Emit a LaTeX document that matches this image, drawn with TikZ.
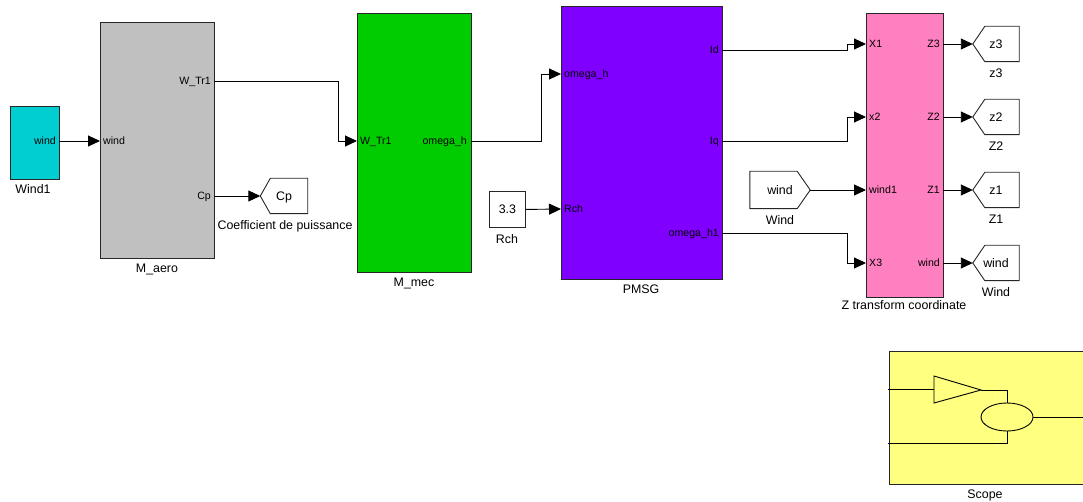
\documentclass[tikz,border=0pt]{standalone}
\usepackage{fontspec}
\setmainfont{Liberation Sans}
\usetikzlibrary{arrows.meta,calc}

\definecolor{windcyan}{RGB}{0,206,209}
\definecolor{aerogray}{RGB}{192,192,192}
\definecolor{mecgreen}{RGB}{0,204,0}
\definecolor{pmsgviolet}{RGB}{128,0,255}
\definecolor{zpink}{RGB}{255,128,192}
\definecolor{scopeyellow}{RGB}{255,255,128}

\newcommand\portfont{\fontsize{10.6}{12}\selectfont}
\newcommand\namefont{\fontsize{12.4}{14}\selectfont}

% outline of a Goto tag (point on the left) around node #1, slant #2
\newcommand\gototag[2]{\draw[tagline] (#1.west) -- ([xshift=#2pt]#1.north west) -- (#1.north east) -- (#1.south east) -- ([xshift=#2pt]#1.south west) -- cycle;}
% outline of a From tag (point on the right) around node #1, slant #2
\newcommand\fromtag[2]{\draw[tagline] (#1.north west) -- ([xshift=-#2pt]#1.north east) -- (#1.east) -- ([xshift=-#2pt]#1.south east) -- (#1.south west) -- cycle;}

\tikzset{
  blk/.style={draw=black!85, line width=0.9pt, inner sep=0pt, anchor=north west},
  portL/.style={font=\portfont, anchor=west, inner sep=0pt, text height=7.6pt, text depth=0pt},
  portR/.style={font=\portfont, anchor=east, inner sep=0pt, text height=7.6pt, text depth=0pt},
  blkname/.style={font=\namefont, inner sep=0pt, text height=8.9pt, text depth=0pt},
  tagtext/.style={font=\namefont, inner sep=0pt, text height=8.9pt, text depth=0pt},
  tagline/.style={line width=0.9pt, draw=black!85},
  wire/.style={line width=0.9pt, -{Triangle[length=12pt,width=11pt]}},
  plain/.style={line width=0.9pt},
}

\begin{document}
\begin{tikzpicture}[x=1pt,y=-1pt]
\useasboundingbox (0,0) rectangle (1083,502);

% ---------------- blocks ----------------
\node[blk, fill=windcyan,   minimum width=49,  minimum height=73]  (w1)   at (10,106) {};
\node[blk, fill=aerogray,   minimum width=114, minimum height=236] (aero) at (100,22) {};
\node[blk, fill=mecgreen,   minimum width=114, minimum height=259] (mec)  at (357,13) {};
\node[blk, fill=pmsgviolet, minimum width=161, minimum height=273] (pm)   at (561,6) {};
\node[blk, fill=zpink,      minimum width=77,  minimum height=284] (zt)   at (866,13) {};
\node[blk, fill=white, minimum width=36, minimum height=36, font=\namefont] (c33) at (489,191) {3.3};
\node[blk, fill=scopeyellow, minimum width=200, minimum height=133] (scope) at (889,351) {};

% ---------------- block names ----------------
\node[blkname] (w1-n)    at (33,189)  {Wind1};
\node[blkname] (aero-n)  at (157,268) {M\_aero};
\node[blkname] (mec-n)   at (414,282) {M\_mec};
\node[blkname] (pm-n)    at (641,289) {PMSG};
\node[blkname] (c33-n)   at (507,239) {Rch};
\node[blkname] (zt-n)    at (904,305) {Z transform coordinate};
\node[blkname] (scope-n) at (985,494) {Scope};

% ---------------- ports ----------------
\coordinate (w1-out)   at (59,141);
\coordinate (aero-in)  at (100,141);
\coordinate (aero-wtr) at (214,81);
\coordinate (aero-cp)  at (214,196);
\coordinate (mec-in)   at (357,141);
\coordinate (mec-out)  at (471,141);
\coordinate (pm-om)    at (561,74);
\coordinate (pm-rch)   at (561,209);
\coordinate (pm-id)    at (722,50);
\coordinate (pm-iq)    at (722,141);
\coordinate (pm-om1)   at (722,233);
\coordinate (zt-x1)    at (866,44);
\coordinate (zt-x2)    at (866,117);
\coordinate (zt-wind)  at (866,190);
\coordinate (zt-x3)    at (866,263);
\coordinate (zt-z3)    at (943,44);
\coordinate (zt-z2)    at (943,117);
\coordinate (zt-z1)    at (943,190);
\coordinate (zt-wo)    at (943,263);

\node[portR] (w1-out-l)   at (56,141)  {wind};
\node[portL] (aero-in-l)  at (103,141) {wind};
\node[portR] (aero-wtr-l) at (211,81)  {W\_Tr1};
\node[portR] (aero-cp-l)  at (211,196) {Cp};
\node[portL] (mec-in-l)   at (360,141) {W\_Tr1};
\node[portR] (mec-out-l)  at (467,141) {omega\_h};
\node[portL] (pm-om-l)    at (564,74)  {omega\_h};
\node[portL] (pm-rch-l)   at (564,209) {Rch};
\node[portR] (pm-id-l)    at (719,50)  {Id};
\node[portR] (pm-iq-l)    at (719,141) {Iq};
\node[portR] (pm-om1-l)   at (719,233) {omega\_h1};
\node[portL] (zt-x1-l)    at (869,44)  {X1};
\node[portL] (zt-x2-l)    at (869,117) {x2};
\node[portL] (zt-wind-l)  at (869,190) {wind1};
\node[portL] (zt-x3-l)    at (869,263) {X3};
\node[portR] (zt-z3-l)    at (940,44)  {Z3};
\node[portR] (zt-z2-l)    at (940,117) {Z2};
\node[portR] (zt-z1-l)    at (940,190) {Z1};
\node[portR] (zt-wo-l)    at (940,263) {wind};

% ---------------- Goto / From tags ----------------
\node[tagtext, minimum width=47, minimum height=35] (gcp)  at (284,196) {Cp};
\gototag{gcp}{10}
\node[blkname] (gcp-n) at (285,225) {Coefficient de puissance};

\node[tagtext, minimum width=60, minimum height=37] (fwind) at (780,190) {wind};
\fromtag{fwind}{13}
\node[blkname] (fwind-n) at (780,220) {Wind};

\node[tagtext, minimum width=46, minimum height=35] (gz3) at (996,44)  {z3};
\node[tagtext, minimum width=46, minimum height=35] (gz2) at (996,117) {z2};
\node[tagtext, minimum width=46, minimum height=35] (gz1) at (996,190) {z1};
\node[tagtext, minimum width=46, minimum height=35] (gwo) at (996,263) {wind};
\gototag{gz3}{12}
\gototag{gz2}{12}
\gototag{gz1}{12}
\gototag{gwo}{12}
\node[blkname] (gz3-n) at (996,73)  {z3};
\node[blkname] (gz2-n) at (996,146) {Z2};
\node[blkname] (gz1-n) at (996,219) {Z1};
\node[blkname] (gwo-n) at (996,292) {Wind};

% ---------------- signal lines ----------------
\draw[wire] (w1-out) -- (aero-in);
\draw[wire] (aero-wtr) -| ([xshift=-19pt]mec-in) -- (mec-in);
\draw[wire] (aero-cp) -- (gcp.west);
\draw[wire] (mec-out) -| ([xshift=-20pt]pm-om) -- (pm-om);
\draw[wire] (c33.east) -- (pm-rch);
\draw[wire] (pm-id) -| ([xshift=-19pt]zt-x1) -- (zt-x1);
\draw[wire] (pm-iq) -| ([xshift=-19pt]zt-x2) -- (zt-x2);
\draw[wire] (fwind.east) -- (zt-wind);
\draw[wire] (pm-om1) -| ([xshift=-19pt]zt-x3) -- (zt-x3);
\draw[wire] (zt-z3) -- (gz3.west);
\draw[wire] (zt-z2) -- (gz2.west);
\draw[wire] (zt-z1) -- (gz1.west);
\draw[wire] (zt-wo) -- (gwo.west);

% ---------------- scope icon ----------------
\draw[plain] (888,389) -- (934,389);
\draw[plain] (934,376) -- (981,390) -- (934,403) -- cycle;
\draw[plain] (981,390) -- (1007,390) -- (1007,403);
\draw[plain] (1007,417) ellipse [x radius=26, y radius=14];
\draw[plain] (1007,431) -- (1007,443) -- (888,443);
\draw[plain] (1033,417) -- (1090,417);
\end{tikzpicture}
\end{document}
